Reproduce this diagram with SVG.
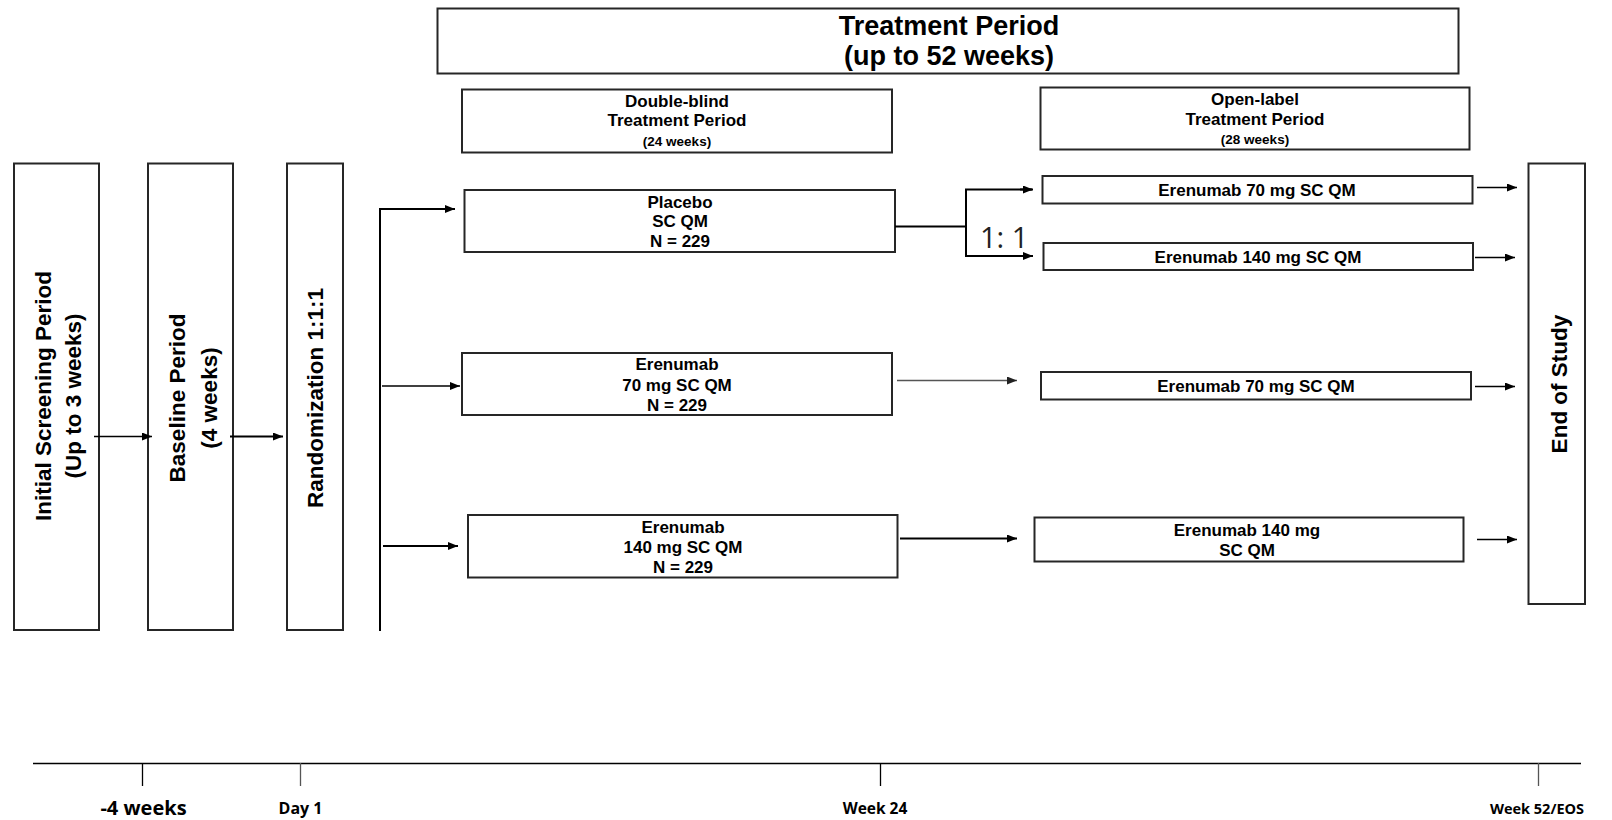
<svg xmlns="http://www.w3.org/2000/svg" width="1612" height="820" viewBox="0 0 1612 820">
<defs>
<style>
.box{fill:#fff;stroke:#262626;stroke-width:2}
.t{font-family:"Liberation Sans",Arial,Helvetica,sans-serif;font-weight:bold;fill:#000;text-anchor:middle}
.vt{font-size:22.5px}
.hd{font-size:27px}
.md{font-size:17px}
.sm{font-size:13.5px}
.tl{font-family:"Open Sans","Noto Sans",sans-serif;font-weight:bold;fill:#000;text-anchor:middle}
.ln{fill:none;stroke:#000}
.w1{stroke-width:1.3}
.w2{stroke-width:2}
.gr{stroke:#555}
</style>
<marker id="ah" markerUnits="userSpaceOnUse" markerWidth="10" markerHeight="8" refX="10" refY="4" orient="auto">
<path d="M0,0 L10,4 L0,8 z" fill="#000"/>
</marker>
<marker id="ahg" markerUnits="userSpaceOnUse" markerWidth="10" markerHeight="8" refX="10" refY="4" orient="auto">
<path d="M0,0 L10,4 L0,8 z" fill="#222"/>
</marker>
</defs>
<rect width="1612" height="820" fill="#fff"/>

<g id="treatment-period">
<rect class="box" x="437.5" y="8.5" width="1021" height="65"/>
<text class="t hd" x="949" y="35">Treatment Period</text>
<text class="t hd" x="949" y="64.5">(up to 52 weeks)</text>
</g>

<g id="double-blind">
<rect class="box" x="462" y="89.5" width="430" height="63"/>
<text class="t md" x="677" y="106.5">Double-blind</text>
<text class="t md" x="677" y="126">Treatment Period</text>
<text class="t sm" x="677" y="145.5">(24 weeks)</text>
</g>

<g id="open-label">
<rect class="box" x="1040.5" y="87.5" width="429" height="62"/>
<text class="t md" x="1255" y="104.5">Open-label</text>
<text class="t md" x="1255" y="125">Treatment Period</text>
<text class="t sm" x="1255" y="143.5">(28 weeks)</text>
</g>

<g id="screening">
<rect class="box" x="14" y="163.5" width="85" height="466.5"/>
<g transform="translate(0,396) rotate(-90)">
<text class="t vt" x="0" y="50.5">Initial Screening Period</text>
<text class="t vt" x="0" y="81">(Up to 3 weeks)</text>
</g>
</g>

<g id="baseline">
<rect class="box" x="148" y="163.5" width="85" height="466.5"/>
<g transform="translate(0,398) rotate(-90)">
<text class="t vt" x="0" y="185">Baseline Period</text>
<text class="t vt" x="0" y="216.5">(4 weeks)</text>
</g>
</g>

<g id="randomization">
<rect class="box" x="287" y="163.5" width="56" height="466.5"/>
<g transform="translate(0,398) rotate(-90)">
<text class="t vt" x="0" y="323">Randomization 1:1:1</text>
</g>
</g>

<g id="placebo">
<rect class="box" x="464.5" y="190" width="430.5" height="62"/>
<text class="t md" x="680" y="207.5">Placebo</text>
<text class="t md" x="680" y="227">SC QM</text>
<text class="t md" x="680" y="246.5">N = 229</text>
</g>

<g id="erenumab70-db">
<rect class="box" x="462" y="353" width="430" height="62"/>
<text class="t md" x="677" y="370">Erenumab</text>
<text class="t md" x="677" y="390.5">70 mg SC QM</text>
<text class="t md" x="677" y="410.5">N = 229</text>
</g>

<g id="erenumab140-db">
<rect class="box" x="468" y="515" width="429.5" height="62.5"/>
<text class="t md" x="683" y="532.5">Erenumab</text>
<text class="t md" x="683" y="552.5">140 mg SC QM</text>
<text class="t md" x="683" y="572.5">N = 229</text>
</g>

<g id="ol-70-a">
<rect class="box" x="1042.5" y="176" width="430" height="27.5"/>
<text class="t md" x="1257" y="196">Erenumab 70 mg SC QM</text>
</g>

<g id="ol-140-a">
<rect class="box" x="1043.5" y="243" width="429.5" height="27"/>
<text class="t md" x="1258" y="262.5">Erenumab 140 mg SC QM</text>
</g>

<g id="ol-70-b">
<rect class="box" x="1041" y="372" width="430" height="27.5"/>
<text class="t md" x="1256" y="391.5">Erenumab 70 mg SC QM</text>
</g>

<g id="ol-140-b">
<rect class="box" x="1034.5" y="517.5" width="429" height="44"/>
<text class="t md" x="1247" y="536">Erenumab 140 mg</text>
<text class="t md" x="1247" y="556">SC QM</text>
</g>

<g id="end-of-study">
<rect class="box" x="1528.5" y="163.5" width="56.5" height="440.5"/>
<g transform="translate(0,384) rotate(-90)">
<text class="t vt" x="0" y="1566.5">End of Study</text>
</g>
</g>

<g id="connectors">
<line class="ln w1" x1="94" y1="436.5" x2="152" y2="436.5" marker-end="url(#ah)"/>
<line class="ln w2" x1="230" y1="436.5" x2="283" y2="436.5" marker-end="url(#ah)"/>
<line class="ln w2" x1="380" y1="208" x2="380" y2="631"/>
<line class="ln w2" x1="379" y1="209" x2="455" y2="209" marker-end="url(#ah)"/>
<line class="ln w1" x1="382" y1="386" x2="460" y2="386" marker-end="url(#ah)"/>
<line class="ln w2" x1="383" y1="546" x2="458" y2="546" marker-end="url(#ah)"/>
<line class="ln w2" x1="895" y1="226.5" x2="966" y2="226.5"/>
<polyline class="ln w2" points="1032,189.5 966,189.5 966,256 1032,256"/>
<line class="ln w2" x1="1020" y1="189.5" x2="1033" y2="189.5" marker-end="url(#ah)"/>
<line class="ln w2" x1="1020" y1="256" x2="1033" y2="256" marker-end="url(#ah)"/>
<line class="ln w1 gr" x1="897" y1="380.5" x2="1017" y2="380.5" marker-end="url(#ahg)"/>
<line class="ln w2" x1="900" y1="538.5" x2="1017" y2="538.5" marker-end="url(#ah)"/>
<line class="ln w1" x1="1477" y1="187.5" x2="1517" y2="187.5" marker-end="url(#ah)"/>
<line class="ln w1" x1="1475" y1="257.5" x2="1515" y2="257.5" marker-end="url(#ah)"/>
<line class="ln w1" x1="1475" y1="386.5" x2="1515" y2="386.5" marker-end="url(#ah)"/>
<line class="ln w1" x1="1477" y1="539.5" x2="1517" y2="539.5" marker-end="url(#ah)"/>
</g>

<text x="980" y="247.5" font-family="'Open Sans','Noto Sans',sans-serif" font-size="29" fill="#222">1: 1</text>

<g id="timeline">
<line class="ln" stroke-width="1.5" x1="33" y1="763.5" x2="1581" y2="763.5"/>
<line class="ln w1" x1="142.5" y1="763" x2="142.5" y2="786"/>
<line class="ln w1 gr" x1="300.5" y1="763" x2="300.5" y2="786"/>
<line class="ln w1" x1="880.5" y1="763" x2="880.5" y2="786"/>
<line class="ln w1 gr" x1="1538.5" y1="763" x2="1538.5" y2="786"/>
<text class="tl" x="143.5" y="815" font-size="20">-4 weeks</text>
<text class="tl" x="300.5" y="814" font-size="16">Day 1</text>
<text class="tl" x="875" y="814" font-size="15.5">Week 24</text>
<text class="tl" x="1537" y="814" font-size="14.5">Week 52/EOS</text>
</g>
</svg>
